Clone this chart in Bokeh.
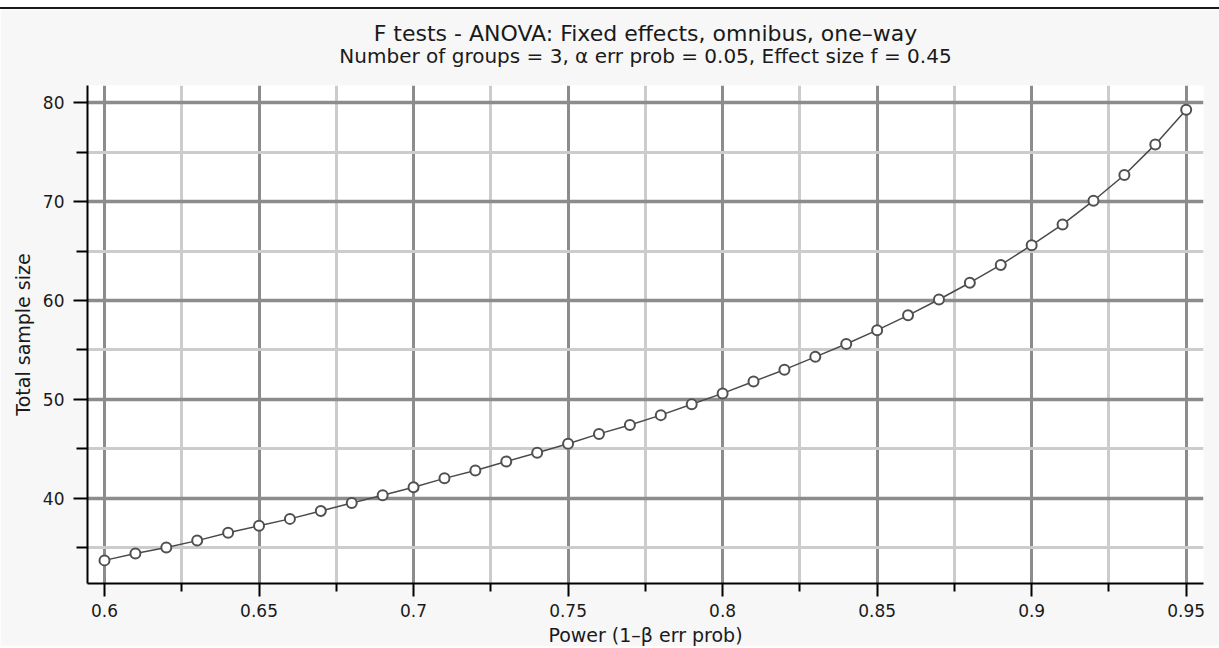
from bokeh.plotting import figure
from bokeh.models import FixedTicker, Range1d, Title
from bokeh.embed import file_html
from bokeh.resources import INLINE

# ---- data ----
power = [0.60, 0.61, 0.62, 0.63, 0.64, 0.65, 0.66, 0.67, 0.68, 0.69,
         0.70, 0.71, 0.72, 0.73, 0.74, 0.75, 0.76, 0.77, 0.78, 0.79,
         0.80, 0.81, 0.82, 0.83, 0.84, 0.85, 0.86, 0.87, 0.88, 0.89,
         0.90, 0.91, 0.92, 0.93, 0.94, 0.95]
sample_size = [33.7, 34.4, 35.0, 35.7, 36.5, 37.2, 37.9, 38.7, 39.5, 40.3,
               41.1, 42.0, 42.8, 43.7, 44.6, 45.5, 46.5, 47.4, 48.4, 49.5,
               50.6, 51.8, 53.0, 54.3, 55.6, 57.0, 58.5, 60.1, 61.8, 63.6,
               65.6, 67.7, 70.1, 72.7, 75.8, 79.3]

x_major = [0.6, 0.65, 0.7, 0.75, 0.8, 0.85, 0.9, 0.95]
x_minor = [0.625, 0.675, 0.725, 0.775, 0.825, 0.875, 0.925]
x_labels = ["0.6", "0.65", "0.7", "0.75", "0.8", "0.85", "0.9", "0.95"]
y_major = [40, 50, 60, 70, 80]
y_minor = [35, 45, 55, 65, 75]
y_labels = ["40", "50", "60", "70", "80"]

title_text = "F tests - ANOVA: Fixed effects, omnibus, one\u2013way"
subtitle_text = "Number of groups = 3, \u03b1 err prob = 0.05, Effect size f = 0.45"
x_title = "Power (1\u2013\u03b2 err prob)"
y_title = "Total sample size"

FONT = "DejaVu Sans"

p = figure(width=1219, height=639, output_backend="svg", toolbar_location=None,
           x_range=Range1d(0.5945, 0.9556), y_range=Range1d(31.36, 81.76),
           min_border_left=87, min_border_right=16, min_border_top=76,
           min_border_bottom=63,
           background_fill_color="white", border_fill_color="#f7f7f7",
           outline_line_color=None, title=None)
p.styles = {"margin-top": "7px", "border-top": "2px solid #1a1a1a"}

spacer = Title(text=" ", text_font_size="10px", standoff=5)
sub = Title(text=subtitle_text, align="center", text_font=FONT,
            text_font_size="20px", text_font_style="normal",
            text_color="#1a1a1a", standoff=0)
main = Title(text=title_text, align="center", text_font=FONT,
             text_font_size="22px", text_font_style="normal",
             text_color="#1a1a1a", standoff=-8)
p.add_layout(spacer, "above")
p.add_layout(sub, "above")
p.add_layout(main, "above")

# axes
p.xaxis.ticker = FixedTicker(ticks=x_major, minor_ticks=x_minor)
p.xaxis.major_label_overrides = {v: s for v, s in zip(x_major, x_labels)}
p.yaxis.ticker = FixedTicker(ticks=y_major, minor_ticks=y_minor)
p.yaxis.major_label_overrides = {v: s for v, s in zip(y_major, y_labels)}

for ax in (p.xaxis, p.yaxis):
    ax.axis_line_color = "black"
    ax.axis_line_width = 2
    ax.major_tick_line_color = "black"
    ax.minor_tick_line_color = "black"
    ax.major_tick_line_width = 2
    ax.minor_tick_line_width = 2
    ax.major_tick_in = 0
    ax.minor_tick_in = 0
    ax.major_label_text_font = FONT
    ax.major_label_text_font_size = "17px"
    ax.major_label_text_color = "#1a1a1a"
    ax.axis_label_text_font = FONT
    ax.axis_label_text_font_size = "19px"
    ax.axis_label_text_font_style = "normal"
    ax.axis_label_text_color = "#1a1a1a"

p.xaxis.axis_label = x_title
p.xaxis.major_tick_out = 13
p.xaxis.minor_tick_out = 8
p.xaxis.major_label_standoff = 7
p.xaxis.axis_label_standoff = 4

p.yaxis.axis_label = y_title
p.yaxis.major_tick_out = 14
p.yaxis.minor_tick_out = 11
p.yaxis.major_label_standoff = 9
p.yaxis.axis_label_standoff = 6

# grids
p.xgrid.grid_line_color = "#8c8c8c"
p.xgrid.grid_line_width = 3
p.xgrid.minor_grid_line_color = "#cccccc"
p.xgrid.minor_grid_line_width = 3
p.ygrid.grid_line_color = "#8c8c8c"
p.ygrid.grid_line_width = 3.5
p.ygrid.minor_grid_line_color = "#cccccc"
p.ygrid.minor_grid_line_width = 3

# data
p.line(power, sample_size, line_color="#4a4a4a", line_width=1.5)
p.scatter(power, sample_size, marker="circle", size=10, fill_color="white",
          line_color="#505050", line_width=2)

open("out.html", "w").write(file_html(p, INLINE))
